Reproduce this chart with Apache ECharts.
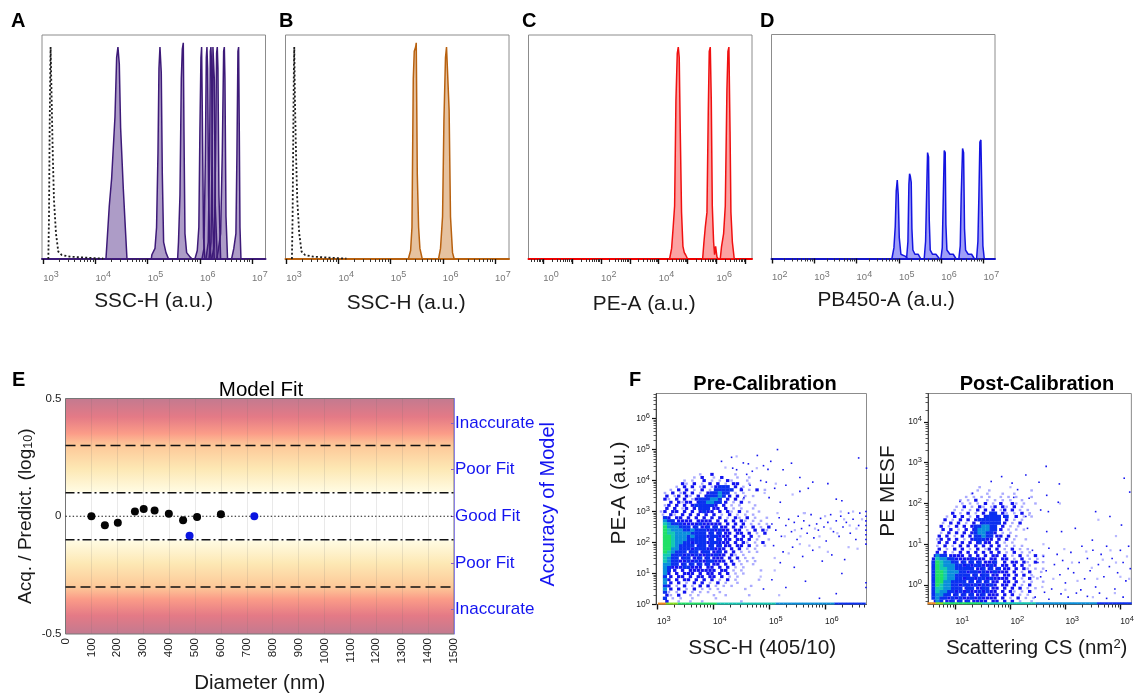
<!DOCTYPE html>
<html>
<head>
<meta charset="utf-8">
<style>html,body{margin:0;padding:0;background:#fff}#c{width:1137px;height:695px}</style>
<script src="https://cdn.jsdelivr.net/npm/echarts@6/dist/echarts.min.js"></script>
</head>
<body>
<div id="c"></div>
<script>
// ---------- Histogram data: [log10(intensity), % of mode] ----------
const unstainedA = [[3.096,0],[3.109,20],[3.121,59],[3.134,91],[3.14,100],[3.147,100],[3.16,75],[3.18,51],[3.204,28],[3.243,12],[3.287,3.5],[3.351,1.9],[3.51,1.1],[3.83,0.6],[4.15,0.2]];
const peaksA = [
 [[4.2,0],[4.226,10],[4.264,25],[4.309,38],[4.373,67],[4.405,95],[4.43,100],[4.456,92],[4.481,62],[4.533,33],[4.571,15],[4.603,0]],
 [[5.069,0],[5.08,2],[5.14,5],[5.17,15],[5.197,50],[5.216,90],[5.235,100],[5.26,88],[5.28,40],[5.305,8],[5.35,3],[5.4,0]],
 [[5.573,0],[5.59,8],[5.618,30],[5.644,85],[5.663,99],[5.682,102],[5.695,60],[5.714,12],[5.746,3],[5.81,1],[5.85,0]],
 [[5.905,0],[5.95,4],[5.98,15],[6.0,60],[6.02,95],[6.033,100],[6.046,70],[6.07,10],[6.097,0]],
 [[6.04,0],[6.078,5],[6.103,45],[6.123,95],[6.135,100],[6.148,90],[6.167,30],[6.193,4],[6.218,0]],
 [[6.116,0],[6.16,8],[6.187,50],[6.2,98],[6.212,100],[6.225,90],[6.244,20],[6.276,0]],
 [[6.174,0],[6.212,8],[6.238,60],[6.25,100],[6.263,100],[6.276,85],[6.295,25],[6.333,0]],
 [[6.225,0],[6.276,6],[6.3,50],[6.32,97],[6.333,100],[6.346,90],[6.365,30],[6.397,0]],
 [[6.32,0],[6.352,4],[6.397,12],[6.429,50],[6.455,98],[6.468,100],[6.48,85],[6.5,20],[6.53,0]],
 [[6.607,0],[6.65,5],[6.69,12],[6.71,50],[6.729,98],[6.742,100],[6.755,60],[6.768,15],[6.787,0]]
];
const unstainedB = [[3.108,0],[3.121,20],[3.134,59],[3.146,91],[3.153,100],[3.166,75],[3.185,51],[3.21,28],[3.248,12],[3.293,3.5],[3.357,1.9],[3.516,1.1],[3.834,0.6],[4.153,0.2]];
const peaksB = [
 [[5.338,0],[5.382,4],[5.408,15],[5.433,85],[5.452,98],[5.478,100],[5.49,102],[5.51,40],[5.535,15],[5.56,5],[5.605,0]],
 [[5.917,0],[5.955,5],[5.994,20],[6.02,65],[6.05,95],[6.07,100],[6.096,100],[6.12,70],[6.146,20],[6.185,3],[6.217,0]]
];
const peaksC = [
 [[4.376,0],[4.446,5],[4.5,15],[4.55,25],[4.596,75],[4.642,97],[4.677,100],[4.71,95],[4.746,60],[4.79,22],[4.838,6],[4.885,3],[4.93,2],[5.0,0]],
 [[5.52,0],[5.566,8],[5.612,15],[5.67,22],[5.716,70],[5.75,98],[5.785,100],[5.82,75],[5.855,25],[5.9,8],[5.935,2],[5.97,6],[6.016,1],[6.06,0]],
 [[6.13,0],[6.176,6],[6.2,6],[6.247,12],[6.305,25],[6.362,80],[6.397,98],[6.43,100],[6.47,60],[6.5,22],[6.55,8],[6.616,0]]
];
const peaksD = [
 [[4.835,0],[4.882,5],[4.913,15],[4.937,32],[4.961,37],[4.984,30],[5.008,10],[5.047,2],[5.102,1.5],[5.157,1],[5.197,0]],
 [[5.181,0],[5.213,8],[5.236,35],[5.252,40],[5.268,39],[5.291,36],[5.307,14],[5.33,4],[5.378,2],[5.457,2],[5.512,0]],
 [[5.598,0],[5.63,8],[5.654,30],[5.677,50],[5.7,48],[5.717,18],[5.74,4],[5.795,2],[5.874,2],[5.953,0]],
 [[5.992,0],[6.024,5],[6.047,28],[6.071,51],[6.094,50],[6.11,16],[6.134,4],[6.205,2],[6.283,2],[6.346,0]],
 [[6.417,0],[6.449,6],[6.472,30],[6.504,52],[6.528,50],[6.55,14],[6.575,4],[6.638,2],[6.717,2],[6.78,0]],
 [[6.835,0],[6.866,8],[6.89,30],[6.913,55],[6.937,56],[6.96,30],[6.984,6],[7.016,0]]
];
// ---------- Tick labels ----------
const decadesA = [3,4,5,6,7], decadesB = [3,4,5,6,7], decadesC = [0,1,2,3,4,5,6,7], labelsC = [0,2,4,6], decadesD = [2,3,4,5,6,7];
const decadesF1x = [3,4,5,6], decadesF1y = [0,1,2,3,4,5,6], decadesF2x = [1,2,3,4], decadesF2y = [0,1,2,3,4];
// ---------- Model fit data ----------
const beadDiameters = [100,152,202,268,302,344,399,454,508,600];
const beadResiduals = [0,-0.038,-0.028,0.02,0.031,0.024,0.011,-0.017,-0.003,0.008];
const cellDiameters = [479,729];
const cellResiduals = [-0.083,0];
const diameterTicks = [0,100,200,300,400,500,600,700,800,900,1000,1100,1200,1300,1400,1500];
const residualTicks = [-0.5,0,0.5];
const accuracyTicks = [0.395,0.2,0,-0.2,-0.395];
const accuracyLabels = ['Inaccurate','Poor Fit','Good Fit','Poor Fit','Inaccurate'];
const inaccurateBounds = [0.3,-0.3], poorBounds = [0.1,-0.1];
// ---------- Density plots: read cell by cell; row = y decade, column = x decade; digit = density level ----------
const densityPre = [
"...........1..2.....1........",
".........1.2..1.2...1..1.....",
".......1.1..2.1.1.21...1.....",
"......21.2.1.2.2.1.22..1.....",
".....1.2.2.12.12333.2.1......",
"...1.2.2.1.2.1.33333.2.1.2.1.",
"..1.2.12.2.1.233433.1.1......",
"..2.12.21.2.2333432.2.1.1....",
"..21.2.2.12333443.2.2.1......",
"...2.2122.23344332.1.2.1.....",
"..12.2.2.2333332.2.1.1...1...",
"..2.2.12.2.33322.2.1.1..1....",
".12.22.2.2.2322.2.21.2.1..1..",
".1.21.2.2.2.2.2.1.2.1.1.1....",
"..32.22.2.2.2.2.2.1.21.2.1..1",
"..4332222.2222.2.2.2.21.1.1..",
"..543332222322222.2.2.2.1.1.1",
"..6444333232232322.2.21.2.1.2",
"..65444334333232322.22.1.2.21",
"..65544443333232322.22.2.1.2.",
"..66544434333233222.2.2.2.1..",
"..66544433333232322.22.2.1..1",
"..66544332333233222.2.21.1.2.",
"..66543333233232322.22.2.1.1.",
"..6644333233323222.2.2.1.1...",
"..6543332332332232.2.1.1.1...",
"..5533323232232322.21.1......",
"..543323322323222.2.2.1.1....",
"..5433223232233222.2.1.1.1...",
"..44332323232322.2.2.1..1....",
"..4322233222.22.2.2.1.1......",
"..432.2.2222222.22.1.1....1..",
"..42.2.222.2.22.2.2.1.1......",
"..32.22.2.22.22.2.1.1........",
"..42.2.22.2.2.2.1.2.1.....1..",
"..42.2.1.2.2.1.2.1..1........",
"..32.1.2.1.2.2.1.1.1....1....",
"..42.2.1.2.1.1.1......1......",
"..31.1.2.1.1.1..1............",
"..21.2..1.1...1..1.....1.....",
"..3.1.1..1.....1.............",
"..2..1..1..1.........1......."
];
const densityPost = [
"............1.................",
"...........1..1..........1....",
"..........1...1...1..1........",
"........1.1.1.1..1.1.1...1...",
".......1.1.2..1.1.1.1..1.....",
".......1.1.1.2.1.2..21.1..1..",
"......1.2.1.21.12.21.2.1.....",
".....1.1.1.2.2.2.12.2.1.1....",
".....2.1.2.1.2.33.21.1.2.1...",
"...1.2.2.1.2.2333323.2.1.1...",
"...2.1.2.2.2333333.2.1.1.....",
"..1.2.2.1.2.2333332.1.2......",
"..2.1.2.2.2334433.2.1.1......",
"..2.2.1.2.23444332.1.1.1.....",
"..1.2.2.2.2344332.1.1........",
".2.2.1.2.2.3343322.2.1.......",
".12.2.2.1.233322.2.2.1..1....",
".2.2.2.2.2.2322.2.1.1........",
".1.2.1.2.2.2.2.2.2.1.1.1.....",
".2.1.2.2.1.2.12.2.1.2.1.1....",
".2.2.1.2.2.2.2.2.2.1.2.1.1...",
"24332222.2.2.2.22.2.1.2.1.2.1",
"25443322223222.22.22.1.2.1.1.",
"36544332323232223.2.22.21.2.1",
"36544433232332232.22.2.2.1...",
"36554433333223232322.2.21.1.1",
"36654443323323223222.2.1.2..1",
"36654433332323322.22.2.2.1...",
"36654433233233232222.2.1.2.1.",
"36644333323232322.22.2.1.1..1",
"36544332332323232.22.2.1.2...",
"35544333233223322.2.2.2.1.1..",
"35443323232232322.2.21.1.2...",
"34433232323223222.2.2.1.1....",
"34332323223232222.2.1.2.1.1..",
"24322323232222.22.2.2.1..1..."
];
const floorPre  = ".88777666666666655555555555555544444444444444433333333332222222";
const floorPost = "8877666666666655555555555555444444444444444433333333333222222222";
const sparsePre = [[4.33,4.75],[4.79,4.81],[5.15,5.0],[6.6,4.73],[4.15,4.62],[4.54,4.57],[4.63,4.54],[4.9,4.48],[5.03,4.62],[5.4,4.56],[6.74,4.4],[4.7,4.3],[4.98,4.36],[5.25,4.35],[4.35,4.4],[4.42,4.35],[4.6,4.2],[5.55,4.1],[6.05,3.9],[5.78,3.95],[5.1,3.75],[5.3,3.85],[4.85,4.0],[4.95,3.95],[4.78,3.7],[5.0,3.45],[5.2,3.3],[6.3,3.35],[4.66,3.85],[4.5,3.75],[4.55,3.45],[5.55,3.65],[5.7,3.75],[6.2,3.4],
[5.05,2.6],[5.12,2.4],[5.18,2.8],[5.22,2.2],[5.3,2.55],[5.35,2.75],[5.4,2.35],[5.45,2.65],[5.5,2.1],[5.52,2.85],[5.58,2.45],[5.62,2.7],[5.68,2.3],[5.72,2.55],[5.75,2.9],[5.8,2.15],[5.85,2.6],[5.88,2.4],[5.92,2.78],[5.98,2.5],[6.02,2.05],[6.05,2.65],[6.1,2.9],[6.15,2.35],[6.2,2.7],[6.25,2.2],[6.28,2.85],[6.32,2.5],[6.38,2.65],[6.42,2.95],[6.45,2.3],[6.5,2.75],[6.55,2.1],[6.6,2.55],[6.62,2.95],[5.08,1.9],[5.25,1.7],[5.42,1.85],[5.6,1.55],[5.78,1.75],[5.95,1.4],[6.12,1.6],[6.35,1.45],[5.2,1.35],[5.45,1.2],[6.3,1.0],[5.65,0.75],[5.05,0.8],[4.9,0.5],[5.3,0.55],[6.2,0.35],[5.9,0.2],
[6.73,3.0],[6.73,2.85],[6.73,2.7],[6.73,2.55],[6.73,2.4],[6.73,2.25],[6.73,2.1],[6.73,1.95],[6.73,0.7],[6.73,0.55]];
const palePre = [[4.42,4.78],[4.22,4.42],[4.78,4.4],[5.12,3.9],[4.92,3.6],[5.42,3.55],[5.62,2.95],[6.28,3.0],[6.5,3.0],[5.15,2.95],[5.28,2.2],[5.46,2.4],[5.56,2.2],[5.64,2.95],[5.82,2.45],[5.9,2.2],[6.0,2.85],[6.1,2.45],[6.22,2.3],[6.34,2.75],[6.44,2.55],[6.56,2.45],[6.66,2.75],[5.1,1.5],[5.35,1.65],[5.55,1.95],[5.72,1.9],[5.9,1.85],[6.05,1.7],[6.42,1.85],[4.85,0.9],[5.1,1.1],[5.18,0.3],[6.58,1.8]];
const sparsePost = [[1.84,2.66],[2.28,2.7],[2.65,2.91],[4.07,2.62],[1.65,2.54],[2.03,2.5],[2.13,2.34],[2.52,2.52],[2.89,2.48],[4.17,2.28],[1.31,2.25],[2.66,2.2],[2.34,2.13],[2.87,2.03],[2.06,2.15],[1.08,2.05],[3.55,1.8],[3.81,1.68],[4.02,1.47],[3.18,1.39],[2.69,1.8],[2.55,1.84],[2.28,1.68],[2.31,1.39],[2.66,1.31],[2.93,1.31],[3.49,1.1],
[2.4,0.85],[2.5,0.55],[2.55,0.2],[2.6,0.7],[2.65,0.35],[2.7,0.9],[2.75,-0.1],[2.8,0.5],[2.85,0.75],[2.9,0.25],[2.95,0.6],[3.0,0.05],[3.05,0.4],[3.1,0.8],[3.15,0.3],[3.2,-0.2],[3.25,0.55],[3.3,0.95],[3.35,0.15],[3.4,0.65],[3.45,0.35],[3.5,0.85],[3.55,-0.05],[3.6,0.5],[3.65,0.75],[3.7,0.2],[3.75,0.95],[3.8,0.45],[3.85,0.65],[3.9,-0.1],[3.95,0.3],[4.0,0.85],[4.05,0.55],[4.1,0.1],[4.15,0.95],[4.18,0.4],[2.45,-0.3],[2.7,-0.35],[3.05,-0.3],[3.4,-0.28],[3.75,-0.33],[4.05,-0.3],[2.62,-0.18],[2.92,-0.22],[3.28,-0.12],[3.62,-0.2]];
const palePost = [[2.0,2.4],[2.34,1.72],[2.9,2.0],[3.6,1.6],[3.92,1.2],[2.6,1.0],[2.78,0.15],[2.98,0.88],[3.12,0.55],[3.22,0.1],[3.38,0.82],[3.48,0.42],[3.58,0.15],[3.68,0.62],[3.82,0.85],[3.92,0.55],[4.0,0.2],[4.12,0.7],[4.16,0.15],[2.42,0.2],[2.58,-0.05],[3.0,-0.12],[3.5,-0.3],[3.9,-0.2]];

// ---------- Helpers ----------
const logStep = [2,3,4,5,6,7,8,9];
function minorTicks(lo, hi){ const out=[]; for(let d=lo;d<=hi;d++) for(const m of logStep) out.push(d+Math.log10(m)); return out; }
const supRich = (col,fs,ss)=>({b:{fontSize:fs,color:col,fontFamily:'Liberation Sans',lineHeight:14},s:{fontSize:ss,color:col,fontFamily:'Liberation Sans',padding:[0,0,6,0],lineHeight:14}});
const pow = v => `{b|10}{s|${Math.round(v)}}`;
const FONT = 'Liberation Sans';

const grid=[], xAxis=[], yAxis=[], series=[];
function addPanel(g,xr,yr,opt){
  const gi=grid.length; grid.push(Object.assign({show:true,borderColor:'#8c8c8c',borderWidth:1,backgroundColor:'#fff'},g));
  const xi=xAxis.length, yi=yAxis.length;
  xAxis.push({type:'value',gridIndex:gi,position:'bottom',min:xr[0],max:xr[1],splitLine:{show:false},
    name:opt.xName,nameLocation:'middle',nameGap:opt.xGap,nameTextStyle:{fontFamily:FONT,fontSize:opt.nameSize||20.8,color:'#1a1a1a',padding:opt.xPad||0,rich:opt.xRich},
    axisLine:{show:true,onZero:false,lineStyle:{color:opt.lineColor,width:opt.lineW||2}},
    axisTick:{show:true,length:opt.majLen||5,lineStyle:{color:'#111',width:1.4},customValues:opt.xMajor},
    axisLabel:{show:true,align:'left',margin:opt.xLabelMargin||12,formatter:pow,customValues:opt.xLabels||opt.xMajor,hideOverlap:false,rich:supRich(opt.tickColor,opt.tickFont,opt.tickSup)}});
  xAxis.push({type:'value',gridIndex:gi,position:'bottom',min:xr[0],max:xr[1],splitLine:{show:false},axisLine:{show:false,onZero:false},axisLabel:{show:false},
    axisTick:{show:true,length:opt.minLen||3,lineStyle:{color:'#333',width:1},customValues:minorTicks(Math.floor(xr[0])-1,Math.ceil(xr[1]))}});
  const y={type:'value',gridIndex:gi,position:'left',min:yr[0],max:yr[1],splitLine:{show:false}};
  if(opt.yMajor){
    y.name=opt.yName;y.nameLocation='middle';y.nameGap=opt.yGap;y.nameTextStyle={fontFamily:FONT,fontSize:20.8,color:'#1a1a1a',padding:opt.yPad||0};
    y.axisLine={show:true,onZero:false,lineStyle:{color:'#444',width:1}};
    y.axisTick={show:true,length:4,lineStyle:{color:'#111',width:1.2},customValues:opt.yMajor};
    y.axisLabel={show:true,margin:6,formatter:pow,customValues:opt.yMajor,hideOverlap:false,rich:supRich(opt.tickColor,opt.tickFont,opt.tickSup)};
    yAxis.push(y);
    yAxis.push({type:'value',gridIndex:gi,position:'left',min:yr[0],max:yr[1],splitLine:{show:false},axisLine:{show:false,onZero:false},axisLabel:{show:false},
      axisTick:{show:true,length:2.5,lineStyle:{color:'#333',width:0.8},customValues:minorTicks(Math.floor(yr[0])-1,Math.ceil(yr[1]))}});
  } else {
    y.show=false; yAxis.push(y);
  }
  return {xi,yi};
}
function addPeaks(ax,list,line,fill,op){
  list.forEach(d=>series.push({type:'line',xAxisIndex:ax.xi,yAxisIndex:ax.yi,data:d,symbol:'none',silent:true,
    lineStyle:{color:line,width:1.5},areaStyle:{color:fill,opacity:op},z:3}));
}
function addDotted(ax,d){
  series.push({type:'line',xAxisIndex:ax.xi,yAxisIndex:ax.yi,data:d,symbol:'none',silent:true,lineStyle:{color:'#1c1c1c',width:1.8,type:[2,2.2]},z:4});
}
const levelColors={1:'#aaaaff',2:'#1414f0',3:'#0a30f0',4:'#0a8fdc',5:'#14c8b4',6:'#20e068',7:'#86e020',8:'#f08a20'};
function addDensity(ax,rows,x0,dx,y0,dy,w,h){
  const full={},dots={},pale={};
  rows.forEach((row,r)=>{ for(let c=0;c<row.length;c++){ const k=row[c]; if(k==='.')continue;
    if(k==='1') (pale[k]=pale[k]||[]).push([x0+dx*c+(r%2?dx/2:0),y0-dy*r]);
    else if(k==='2') (dots[k]=dots[k]||[]).push([x0+dx*c+(r%2?dx/2:0),y0-dy*r]);
    else (full[k]=full[k]||[]).push([x0+dx*c,y0-dy*r]); }});
  const add=(m,size)=>Object.keys(m).forEach(k=>series.push({type:'scatter',xAxisIndex:ax.xi,yAxisIndex:ax.yi,data:m[k],symbol:'rect',symbolSize:size,
    itemStyle:{color:levelColors[k],opacity:1},silent:true,z:2+Number(k)/10}));
  add(full,[w,h]); add(dots,[3.4,3]); add(pale,[2.6,2.3]);
}
function addFloor(ax,str,x0,dx,y){
  const byLevel={};
  for(let c=0;c<str.length;c++){const k=str[c]; if(k==='.')continue; (byLevel[k]=byLevel[k]||[]).push([x0+dx*c,y]);}
  Object.keys(byLevel).forEach(k=>series.push({type:'scatter',xAxisIndex:ax.xi,yAxisIndex:ax.yi,data:byLevel[k],symbol:'rect',symbolSize:[4.1,2],
    itemStyle:{color:levelColors[k],opacity:1},silent:true,z:4}));
}
function addSpecks(ax,d,color,size){
  series.push({type:'scatter',xAxisIndex:ax.xi,yAxisIndex:ax.yi,data:d,symbol:'rect',symbolSize:size,itemStyle:{color,opacity:1},silent:true,z:3});
}

// ---------- Panels A–D ----------
const histCommon={tickColor:'#777',tickFont:9.5,tickSup:9};
const axA=addPanel({left:42,top:35,width:223.5,height:224},[2.975,7.257],[0,105.7],Object.assign({xName:'SSC-H (a.u.)',xGap:32,lineColor:'#3d1a78',xMajor:decadesA},histCommon));
addDotted(axA,unstainedA); addPeaks(axA,peaksA,'#3d1a78','#4a2382',0.45);
const axB=addPanel({left:285.5,top:35,width:223.5,height:224},[2.985,7.267],[0,105.7],Object.assign({xName:'SSC-H (a.u.)',xGap:34,xPad:[0,0,0,18],lineColor:'#b8610f',xMajor:decadesB},histCommon));
addDotted(axB,unstainedB); addPeaks(axB,peaksB,'#b8610f','#c8782a',0.45);
const axC=addPanel({left:528.5,top:35,width:223.5,height:224},[-0.51,7.23],[0,105.7],Object.assign({xName:'PE-A (a.u.)',xGap:35,xPad:[0,0,0,8],lineColor:'#f00000',xMajor:decadesC,xLabels:labelsC},histCommon));
addPeaks(axC,peaksC,'#f01010','#f83030',0.45);
const axD=addPanel({left:771.5,top:34.5,width:223.5,height:224},[1.99,7.27],[0,105.8],Object.assign({xName:'PB450-A (a.u.)',xGap:31,xPad:[0,0,0,6],lineColor:'#1414c8',xMajor:decadesD},histCommon));
addPeaks(axD,peaksD,'#1414e0','#2a2af0',0.45);

// ---------- Panel E ----------
const giE=grid.length;
grid.push({show:true,left:65.5,top:398.5,width:388.5,height:237,borderColor:'#777',borderWidth:1,
  backgroundColor:{type:'linear',x:0,y:0,x2:0,y2:1,colorStops:[
    {offset:0,color:'#c27a90'},{offset:0.08,color:'#e47a86'},{offset:0.15,color:'#fb9c88'},{offset:0.2,color:'#fdc898'},
    {offset:0.3,color:'#fde8b4'},{offset:0.395,color:'#fffbe2'},{offset:0.4,color:'#ffffff'},{offset:0.6,color:'#ffffff'},
    {offset:0.605,color:'#fffbe2'},{offset:0.7,color:'#fde8b4'},{offset:0.8,color:'#fdc898'},{offset:0.85,color:'#fb9c88'},
    {offset:0.92,color:'#e47a86'},{offset:1,color:'#c27a90'}]}});
const xE=xAxis.length,yE=yAxis.length;
xAxis.push({type:'value',gridIndex:giE,min:0,max:1500,interval:100,name:'Diameter (nm)',nameLocation:'middle',nameGap:39,
  nameTextStyle:{fontFamily:FONT,fontSize:20.5,color:'#1a1a1a'},
  axisLine:{show:false,onZero:false},axisTick:{show:false},
  axisLabel:{rotate:90,margin:4,fontFamily:FONT,fontSize:11.5,color:'#222',customValues:diameterTicks,hideOverlap:false,formatter:v=>String(v)},
  splitLine:{show:true,lineStyle:{color:'rgba(110,110,110,0.15)',width:1}}});
yAxis.push({type:'value',gridIndex:giE,min:-0.5,max:0.5,name:'{a|Acq. / Predict. (log}{s|10}{a|)}',nameLocation:'middle',nameGap:30,
  nameTextStyle:{rich:{a:{fontFamily:FONT,fontSize:19,color:'#1a1a1a'},s:{fontFamily:FONT,fontSize:12.5,color:'#1a1a1a',padding:[5,0,0,0]}}},
  axisLine:{show:false,onZero:false},axisTick:{show:false},splitLine:{show:false},
  axisLabel:{margin:4,fontFamily:FONT,fontSize:11.5,color:'#222',customValues:residualTicks,hideOverlap:false,formatter:v=>String(v)}});
yAxis.push({type:'value',gridIndex:giE,position:'right',min:-0.5,max:0.5,name:'Accuracy of Model',nameLocation:'middle',nameGap:82,nameRotate:90,
  nameTextStyle:{fontFamily:FONT,fontSize:20,color:'#1414f0',padding:[0,0,0,24]},
  axisLine:{show:true,onZero:false,lineStyle:{color:'#8a80e8',width:1}},
  axisTick:{show:true,inside:true,length:3,lineStyle:{color:'#8a60c0',width:1},customValues:accuracyTicks},
  splitLine:{show:false},
  axisLabel:{margin:1,fontFamily:FONT,fontSize:17,color:'#1414f0',customValues:accuracyTicks,hideOverlap:false,
    formatter:v=>accuracyLabels[accuracyTicks.indexOf(v)]}});
const hline=(v,type,w)=>({type:'line',xAxisIndex:xE,yAxisIndex:yE,data:[[0,v],[1500,v]],symbol:'none',silent:true,lineStyle:{color:'#111',width:w,type},z:3});
inaccurateBounds.forEach(v=>series.push(hline(v,[10,5],1.5)));
poorBounds.forEach(v=>series.push(hline(v,[9,3,2,3],1.5)));
series.push(hline(0,[1.4,2.2],1.2));
series.push({type:'scatter',name:'Beads',xAxisIndex:xE,yAxisIndex:yE,data:beadDiameters.map((d,i)=>[d,beadResiduals[i]]),symbolSize:8,itemStyle:{color:'#050505',opacity:1},z:5,silent:true});
series.push({type:'scatter',name:'Held out',xAxisIndex:xE,yAxisIndex:yE,data:cellDiameters.map((d,i)=>[d,cellResiduals[i]]),symbolSize:8,itemStyle:{color:'#0a14e0',opacity:1},z:5,silent:true});

// ---------- Panel F ----------
const fCommon={tickColor:'#222',tickFont:8.5,tickSup:7.5,xLabelMargin:10,majLen:5,minLen:3,lineW:1};
const axF1=addPanel({left:656,top:393.5,width:210.5,height:211},[2.98,6.74],[0,6.81],Object.assign({xName:'SSC-H (405/10)',xGap:33,xPad:[0,0,0,2],lineColor:'#555',xMajor:decadesF1x,yName:'PE-A (a.u.)',yGap:26,yPad:[0,0,0,12],yMajor:decadesF1y},fCommon));
addDensity(axF1,densityPre,3.0,0.07,4.2,0.1,4.2,3.4);
addSpecks(axF1,palePre,'#b8b8ff',2.2); addSpecks(axF1,sparsePre,'#1414f0',1.6);
addFloor(axF1,floorPre,2.98,0.07,0.03);
const axF2=addPanel({left:928,top:393.5,width:209,height:211},[0.5,4.2],[-0.48,4.7],Object.assign({xName:'{a|Scattering CS (nm}{s|2}{a|)}',xGap:33,xPad:[0,0,0,14],lineColor:'#555',xMajor:decadesF2x,xRich:{a:{fontFamily:FONT,fontSize:20.5,color:'#1a1a1a'},s:{fontFamily:FONT,fontSize:13,color:'#1a1a1a',padding:[0,0,8,0]}},yName:'PE MESF',yGap:29,yPad:[0,0,0,16],yMajor:decadesF2y},fCommon));
addDensity(axF2,densityPost,0.6,0.07,2.4,0.08,4.2,3.5);
addSpecks(axF2,palePost,'#b8b8ff',2.2); addSpecks(axF2,sparsePost,'#1414f0',1.6);
addFloor(axF2,floorPost,0.53,0.07,-0.45);

const letter=(t,x,y)=>({text:t,left:x,top:y,textStyle:{fontFamily:FONT,fontSize:20,fontWeight:'bold',color:'#000'}});
const head=(t,x,y,w,s)=>({text:t,left:x,top:y,textAlign:'center',textStyle:{fontFamily:FONT,fontSize:s,fontWeight:w,color:'#000'}});
const title=[letter('A',6,6),letter('B',274,6),letter('C',517,6),letter('D',755,6),letter('E',7,365),letter('F',624,365),
  head('Model Fit',256,375,'normal',20.5),head('Pre-Calibration',760,369,'bold',20),head('Post-Calibration',1032,369,'bold',20)];

const chart=echarts.init(document.getElementById('c'),null,{renderer:'canvas'});
chart.setOption({animation:false,backgroundColor:'#fff',title,grid,xAxis,yAxis,series,tooltip:{show:false},legend:{show:false}});
</script>
</body>
</html>
